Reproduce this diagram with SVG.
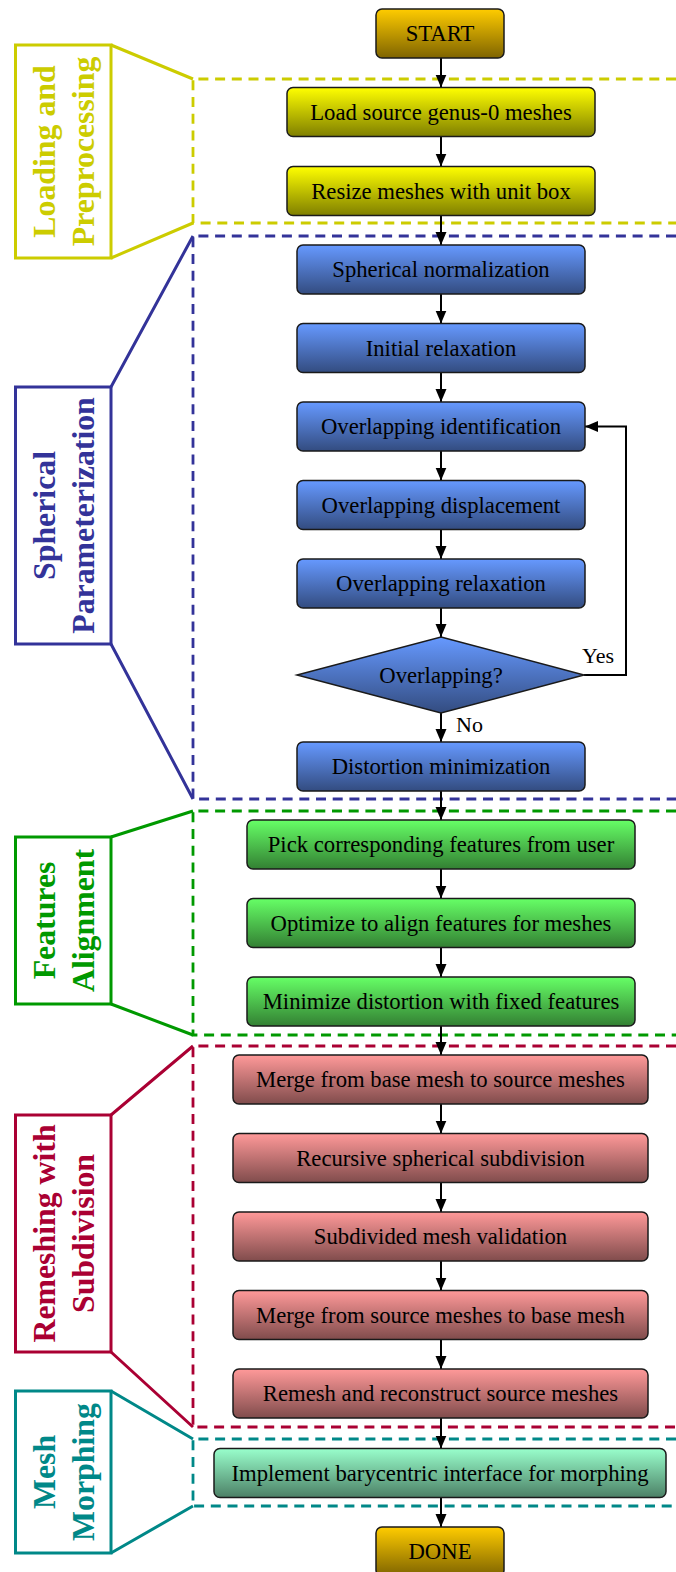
<svg xmlns="http://www.w3.org/2000/svg" width="676" height="1572" viewBox="0 0 676 1572">
<style>
  .box { stroke: #1a1a1a; stroke-width: 1.5; }
  .t { font-family: "Liberation Serif", "Times New Roman", serif; font-size: 22.7px; fill: #000; text-anchor: middle; }
  .lbl { font-family: "Liberation Serif", "Times New Roman", serif; font-size: 31.8px; font-weight: bold; text-anchor: middle; }
  .lblbox { fill: #fff; stroke-width: 3; }
  .dash { fill: none; stroke-width: 2.8; stroke-dasharray: 10 6.7; }
  .diag { fill: none; stroke-width: 3; }
  .conn { fill: none; stroke: #000; stroke-width: 2; }
  .small { font-family: "Liberation Serif", "Times New Roman", serif; font-size: 22px; fill: #000; }
</style>
<defs>
  <linearGradient id="gOrange" x1="0" y1="0" x2="0" y2="1"><stop offset="0" stop-color="#ffcc00"/><stop offset="1" stop-color="#7f6400"/></linearGradient>
  <linearGradient id="gYellow" x1="0" y1="0" x2="0" y2="1"><stop offset="0" stop-color="#ffff00"/><stop offset="1" stop-color="#7f7f00"/></linearGradient>
  <linearGradient id="gBlue" x1="0" y1="0" x2="0" y2="1"><stop offset="0" stop-color="#6699ff"/><stop offset="1" stop-color="#334c80"/></linearGradient>
  <linearGradient id="gGreen" x1="0" y1="0" x2="0" y2="1"><stop offset="0" stop-color="#66ff66"/><stop offset="1" stop-color="#338033"/></linearGradient>
  <linearGradient id="gRed" x1="0" y1="0" x2="0" y2="1"><stop offset="0" stop-color="#ff9999"/><stop offset="1" stop-color="#804c4c"/></linearGradient>
  <linearGradient id="gTeal" x1="0" y1="0" x2="0" y2="1"><stop offset="0" stop-color="#99ffcc"/><stop offset="1" stop-color="#4c8066"/></linearGradient>
  <marker id="arr" markerUnits="userSpaceOnUse" markerWidth="13" markerHeight="12" refX="13" refY="5.5" orient="auto">
    <path d="M0,0 L13,5.5 L0,11 Z" fill="#000"/>
  </marker>
</defs>

<!-- Section groups (dashed frames, callouts, labels) -->
<g id="sec-loading" stroke="#cccc00">
  <path class="dash" d="M676,79 H193 V223 H676"/>
  <path class="diag" d="M111,45 L193,79 M111,258 L193,223"/>
  <rect class="lblbox" x="15.5" y="45" width="95.5" height="213"/>
  <text class="lbl" fill="#cccc00" stroke="none" transform="translate(62,151.5) rotate(-90)"><tspan x="0" y="-7">Loading and</tspan><tspan x="0" y="32">Preprocessing</tspan></text>
</g>
<g id="sec-spherical" stroke="#333399">
  <path class="dash" d="M676,236 H193 V799 H676"/>
  <path class="diag" d="M111,387 L193,236 M111,644 L193,799"/>
  <rect class="lblbox" x="15.5" y="387" width="95.5" height="257"/>
  <text class="lbl" fill="#333399" stroke="none" transform="translate(62,515.5) rotate(-90)"><tspan x="0" y="-7">Spherical</tspan><tspan x="0" y="32">Parameterization</tspan></text>
</g>
<g id="sec-features" stroke="#009900">
  <path class="dash" d="M676,811 H193 V1035 H676"/>
  <path class="diag" d="M111,837 L193,811 M111,1004 L193,1035"/>
  <rect class="lblbox" x="15.5" y="837" width="95.5" height="167"/>
  <text class="lbl" fill="#009900" stroke="none" transform="translate(62,920.5) rotate(-90)"><tspan x="0" y="-7">Features</tspan><tspan x="0" y="32">Alignment</tspan></text>
</g>
<g id="sec-remeshing" stroke="#aa0033">
  <path class="dash" d="M676,1046 H193 V1427 H676"/>
  <path class="diag" d="M111,1115 L193,1046 M111,1352 L193,1427"/>
  <rect class="lblbox" x="15.5" y="1115" width="95.5" height="237"/>
  <text class="lbl" fill="#aa0033" stroke="none" transform="translate(62,1233.5) rotate(-90)"><tspan x="0" y="-7">Remeshing with</tspan><tspan x="0" y="32">Subdivision</tspan></text>
</g>
<g id="sec-morphing" stroke="#008888">
  <path class="dash" d="M676,1439 H193 V1506 H676"/>
  <path class="diag" d="M111,1391 L193,1439 M111,1553 L193,1506"/>
  <rect class="lblbox" x="15.5" y="1391" width="95.5" height="162"/>
  <text class="lbl" fill="#008888" stroke="none" transform="translate(62,1472) rotate(-90)"><tspan x="0" y="-7">Mesh</tspan><tspan x="0" y="32">Morphing</tspan></text>
</g>

<!-- Connectors -->
<g id="connectors" class="conn" marker-end="url(#arr)">
  <line x1="441" y1="58" x2="441" y2="87.5"/>
  <line x1="441" y1="136.5" x2="441" y2="166.5"/>
  <line x1="441" y1="215.5" x2="441" y2="245"/>
  <line x1="441" y1="294" x2="441" y2="323.5"/>
  <line x1="441" y1="372.5" x2="441" y2="402"/>
  <line x1="441" y1="451" x2="441" y2="480.5"/>
  <line x1="441" y1="529.5" x2="441" y2="559"/>
  <line x1="441" y1="608" x2="441" y2="637"/>
  <line x1="441" y1="713" x2="441" y2="742"/>
  <line x1="441" y1="791" x2="441" y2="820"/>
  <line x1="441" y1="869" x2="441" y2="898.5"/>
  <line x1="441" y1="947.5" x2="441" y2="977"/>
  <line x1="441" y1="1026" x2="441" y2="1055"/>
  <line x1="441" y1="1104" x2="441" y2="1133.5"/>
  <line x1="441" y1="1182.5" x2="441" y2="1212"/>
  <line x1="441" y1="1261" x2="441" y2="1290.5"/>
  <line x1="441" y1="1339.5" x2="441" y2="1369"/>
  <line x1="441" y1="1418" x2="441" y2="1448.5"/>
  <line x1="441" y1="1497.5" x2="441" y2="1527"/>
  <polyline points="584,675 626,675 626,426.5 585,426.5"/>
</g>
<text class="small" x="582" y="663">Yes</text>
<text class="small" x="456" y="731.5">No</text>

<!-- Nodes -->
<g id="start"><rect class="box" x="376" y="9" width="128" height="49" rx="6" fill="url(#gOrange)"/><text class="t" x="440" y="41">START</text></g>
<g id="load"><rect class="box" x="287" y="87.5" width="308" height="49" rx="6" fill="url(#gYellow)"/><text class="t" x="441" y="119.5">Load source genus-0 meshes</text></g>
<g id="resize"><rect class="box" x="287" y="166.5" width="308" height="49" rx="6" fill="url(#gYellow)"/><text class="t" x="441" y="198.5">Resize meshes with unit box</text></g>
<g id="sph-norm"><rect class="box" x="297" y="245" width="288" height="49" rx="6" fill="url(#gBlue)"/><text class="t" x="441" y="277">Spherical normalization</text></g>
<g id="init-relax"><rect class="box" x="297" y="323.5" width="288" height="49" rx="6" fill="url(#gBlue)"/><text class="t" x="441" y="355.5">Initial relaxation</text></g>
<g id="ov-ident"><rect class="box" x="297" y="402" width="288" height="49" rx="6" fill="url(#gBlue)"/><text class="t" x="441" y="434">Overlapping identification</text></g>
<g id="ov-disp"><rect class="box" x="297" y="480.5" width="288" height="49" rx="6" fill="url(#gBlue)"/><text class="t" x="441" y="512.5">Overlapping displacement</text></g>
<g id="ov-relax"><rect class="box" x="297" y="559" width="288" height="49" rx="6" fill="url(#gBlue)"/><text class="t" x="441" y="591">Overlapping relaxation</text></g>
<g id="ov-decision"><polygon class="box" points="441,637 584,675 441,713 297,675" fill="url(#gBlue)"/><text class="t" x="441" y="682.5">Overlapping?</text></g>
<g id="dist-min"><rect class="box" x="297" y="742" width="288" height="49" rx="6" fill="url(#gBlue)"/><text class="t" x="441" y="774">Distortion minimization</text></g>
<g id="pick"><rect class="box" x="247" y="820" width="388" height="49" rx="6" fill="url(#gGreen)"/><text class="t" x="441" y="852">Pick corresponding features from user</text></g>
<g id="optimize"><rect class="box" x="247" y="898.5" width="388" height="49" rx="6" fill="url(#gGreen)"/><text class="t" x="441" y="930.5">Optimize to align features for meshes</text></g>
<g id="minimize"><rect class="box" x="247" y="977" width="388" height="49" rx="6" fill="url(#gGreen)"/><text class="t" x="441" y="1009">Minimize distortion with fixed features</text></g>
<g id="merge-base"><rect class="box" x="233" y="1055" width="415" height="49" rx="6" fill="url(#gRed)"/><text class="t" x="440.5" y="1087">Merge from base mesh to source meshes</text></g>
<g id="recursive"><rect class="box" x="233" y="1133.5" width="415" height="49" rx="6" fill="url(#gRed)"/><text class="t" x="440.5" y="1165.5">Recursive spherical subdivision</text></g>
<g id="subdivided"><rect class="box" x="233" y="1212" width="415" height="49" rx="6" fill="url(#gRed)"/><text class="t" x="440.5" y="1244">Subdivided mesh validation</text></g>
<g id="merge-src"><rect class="box" x="233" y="1290.5" width="415" height="49" rx="6" fill="url(#gRed)"/><text class="t" x="440.5" y="1322.5">Merge from source meshes to base mesh</text></g>
<g id="remesh"><rect class="box" x="233" y="1369" width="415" height="49" rx="6" fill="url(#gRed)"/><text class="t" x="440.5" y="1401">Remesh and reconstruct source meshes</text></g>
<g id="implement"><rect class="box" x="214" y="1448.5" width="452" height="49" rx="6" fill="url(#gTeal)"/><text class="t" x="440" y="1480.5">Implement barycentric interface for morphing</text></g>
<g id="done"><rect class="box" x="376" y="1527" width="128" height="49" rx="6" fill="url(#gOrange)"/><text class="t" x="440" y="1559">DONE</text></g>
</svg>
